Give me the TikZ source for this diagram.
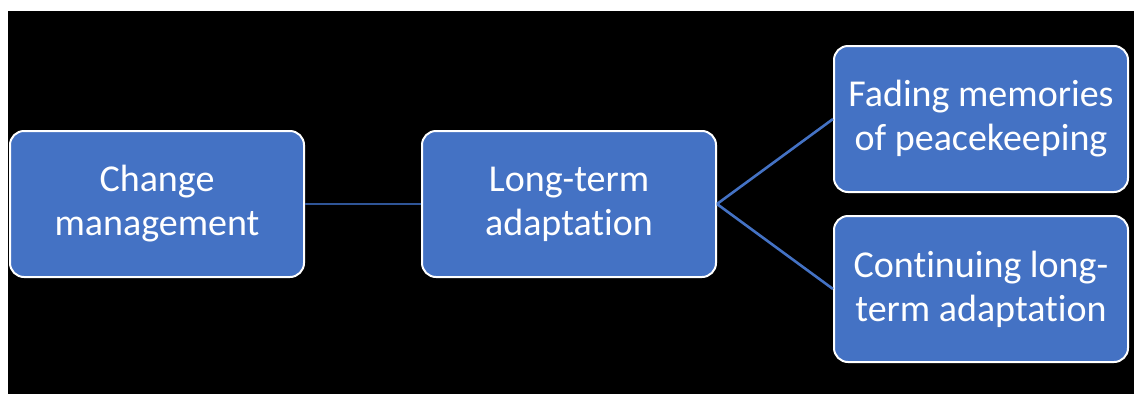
\documentclass[tikz,border=0pt]{standalone}
\usepackage{fontspec}
\setmainfont{Carlito}[Ligatures={NoCommon}]
\definecolor{boxblue}{HTML}{4472C4}
\definecolor{linkdark}{HTML}{2F5597}
\begin{document}
\begin{tikzpicture}[x=1pt,y=-1pt,
  card/.style={draw=white, line width=2pt, fill=boxblue, rounded corners=14pt,
    minimum width=294pt, minimum height=146pt, inner sep=0pt, align=center,
    text=white, font=\fontsize{38}{44}\selectfont},
  link/.style={line width=2.6pt, draw=boxblue},
  linkmain/.style={line width=2.4pt, draw=linkdark}]
  % page and dark backdrop
  \fill[white] (0,0) rectangle (1134,394);
  \useasboundingbox (0,0) rectangle (1134,394);
  \fill[black] (8,11) rectangle (1134,394);
  % boxes
  \node[card] (cm) at (157,204) {Change\\management};
  \node[card] (lt) at (569,204) {Long-term\\adaptation};
  \node[card] (fm) at (981,119) {Fading memories\\of peacekeeping};
  \node[card] (cl) at (981,289) {Continuing long-\\term adaptation};
  % connectors
  \draw[linkmain] (cm.east) -- (lt.west);
  \draw[link] (lt.east) -- (fm.west);
  \draw[link] (lt.east) -- (cl.west);
\end{tikzpicture}
\end{document}
